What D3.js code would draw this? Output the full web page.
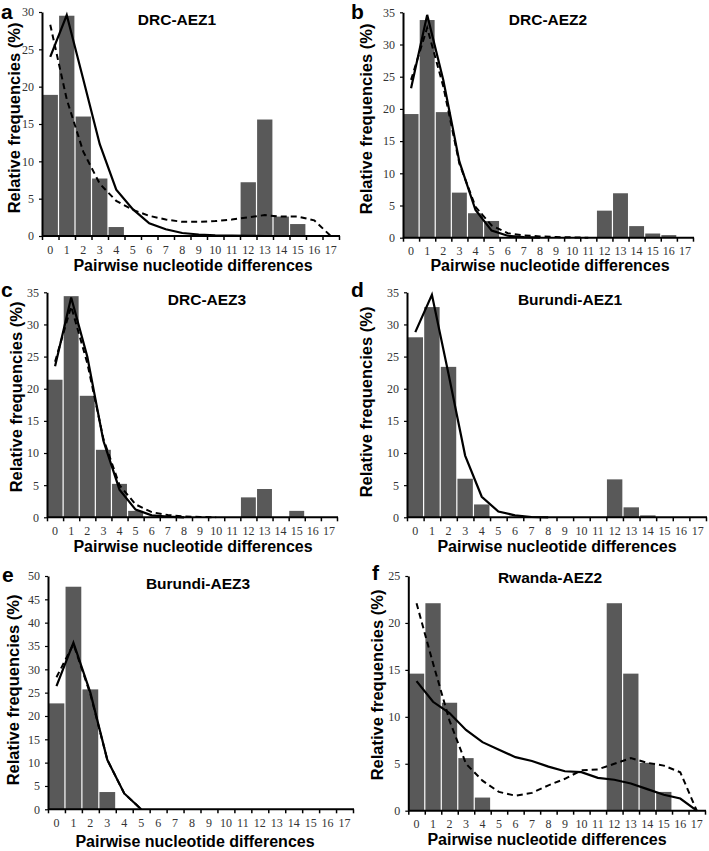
<!DOCTYPE html>
<html>
<head>
<meta charset="utf-8">
<script src="https://cdn.jsdelivr.net/npm/d3@7"></script>
<style>
  body { margin: 0; background: #fff; }
  svg { display: block; }
</style>
</head>
<body>
<div id="chart"></div>
<script>
const categories = [0, 1, 2, 3, 4, 5, 6, 7, 8, 9, 10, 11, 12, 13, 14, 15, 16, 17];

const panelLetters = ["a", "b", "c", "d", "e", "f"];
const panelTitles = ["DRC-AEZ1", "DRC-AEZ2", "DRC-AEZ3", "Burundi-AEZ1", "Burundi-AEZ3", "Rwanda-AEZ2"];
const yMaxes = [30, 35, 35, 35, 50, 25];
const yTickStep = 5;

// observed mismatch distribution (bars)
const barsA = [18.9, 29.5, 16.0, 7.7, 1.2, 0, 0, 0, 0, 0, 0, 0, 7.2, 15.6, 2.6, 1.6, 0, 0];
const barsB = [19.2, 33.8, 19.5, 7.0, 3.8, 2.6, 0, 0, 0, 0, 0, 0, 4.2, 6.9, 1.8, 0.65, 0.4, 0];
const barsC = [21.4, 34.4, 18.9, 10.5, 5.2, 1.0, 0, 0, 0, 0, 0, 0, 3.1, 4.4, 0, 1.0, 0, 0];
const barsD = [28.0, 32.7, 23.4, 6.0, 2.0, 0, 0, 0, 0, 0, 0, 0, 5.9, 1.55, 0.3, 0, 0, 0];
const barsE = [22.7, 47.7, 25.7, 3.7, 0, 0, 0, 0, 0, 0, 0, 0, 0, 0, 0, 0, 0, 0];
const barsF = [14.6, 22.1, 11.5, 5.6, 1.4, 0, 0, 0, 0, 0, 0, 0, 22.1, 14.6, 5.1, 2.0, 0, 0];

// expected curves, solid line
const solidA = [24.0, 29.6, 21.0, 12.3, 6.2, 3.6, 1.7, 0.9, 0.4, 0.2, 0.1, 0.05, 0.02, 0, 0, 0, 0, 0];
const solidB = [23.2, 34.6, 24.5, 11.8, 4.3, 1.1, 0.3, 0.1, 0];
const solidC = [23.5, 34.2, 25.0, 11.9, 4.3, 1.2, 0.3, 0.1, 0];
const solidD = [28.8, 34.6, 22.3, 9.6, 3.2, 0.9, 0.3, 0.05, 0];
const solidE = [26.4, 35.7, 25.0, 10.6, 3.4, 0];
const solidF = [13.8, 11.6, 10.4, 8.6, 7.3, 6.5, 5.7, 5.3, 4.7, 4.2, 4.1, 3.5, 3.3, 2.9, 2.3, 1.7, 1.3, 0];

// expected curves, dashed line
const dashedA = [28.3, 18.3, 11.3, 7.0, 4.7, 3.5, 2.7, 2.2, 1.9, 1.9, 2.0, 2.2, 2.5, 2.8, 2.6, 2.6, 2.1, 0];
const dashedB = [24.5, 32.6, 23.5, 11.5, 4.8, 1.9, 0.7, 0.35, 0.2, 0.1, 0.05, 0];
const dashedC = [24.2, 32.8, 24.0, 12.2, 5.0, 2.0, 0.8, 0.35, 0.15, 0.05, 0];
const dashedD = null;
const dashedE = [28.3, 35.4, 24.7, 10.6, 3.4, 0];
const dashedF = [22.1, 15.7, 9.6, 5.0, 3.2, 2.0, 1.6, 1.9, 2.7, 3.4, 4.3, 4.4, 5.0, 5.6, 5.1, 4.8, 4.1, 0];

const xLabel = "Pairwise nucleotide differences";
const yLabel = "Relative frequencies (%)";

const bars = [barsA, barsB, barsC, barsD, barsE, barsF];
const solids = [solidA, solidB, solidC, solidD, solidE, solidF];
const dashes = [dashedA, dashedB, dashedC, dashedD, dashedE, dashedF];

// plot boxes: x range of bands, y range (bottom, top), label spots
const boxes = [
  { x0: 42, x1: 339, y0: 236, y1: 12, tx: 177, ty: 25, lx: 1, ly: 19, yl: [20, 118], xl: [193, 271] },
  { x0: 403, x1: 693, y0: 237.7, y1: 12.3, tx: 548, ty: 25, lx: 351, ly: 19, yl: [372, 119], xl: [550, 271] },
  { x0: 47, x1: 337, y0: 517.3, y1: 292.3, tx: 207, ty: 305, lx: 1, ly: 297, yl: [22, 397], xl: [193, 552] },
  { x0: 407, x1: 706, y0: 517.3, y1: 292.3, tx: 570, ty: 305, lx: 351, ly: 297, yl: [372, 402], xl: [557, 552] },
  { x0: 48, x1: 353, y0: 809.3, y1: 576, tx: 198, ty: 589, lx: 2, ly: 582, yl: [19, 690], xl: [195, 847] },
  { x0: 408.3, x1: 705, y0: 810.7, y1: 576, tx: 550, ty: 583, lx: 372, ly: 580, yl: [383, 685], xl: [547, 845] }
];

const svg = d3.select("#chart")
  .append("svg")
    .attr("width", 709)
    .attr("height", 851);

svg.append("rect")
  .attr("width", 709)
  .attr("height", 851)
  .style("fill", "#fff");

boxes.forEach((b, i) => {
  const g = svg.append("g");

  const x = d3.scaleBand()
    .domain(categories)
    .range([b.x0, b.x1])
    .padding(0);

  const xEdge = d3.scaleLinear()
    .domain([0, categories.length])
    .range([b.x0, b.x1]);

  const y = d3.scaleLinear()
    .domain([0, yMaxes[i]])
    .range([b.y0, b.y1]);

  // bars
  g.append("g")
    .selectAll("rect")
    .data(bars[i].map((v, k) => [categories[k], v]).filter(d => d[1] > 0))
    .enter()
    .append("rect")
      .attr("x", d => x(d[0]) + 0.6)
      .attr("width", x.bandwidth() - 1.2)
      .attr("y", d => y(d[1]))
      .attr("height", d => y(0) - y(d[1]))
      .style("fill", "#595959");

  const line = d3.line()
    .x((d, k) => x(categories[k]) + x.bandwidth() / 2)
    .y(d => y(d));

  if (dashes[i]) {
    g.append("path")
      .datum(dashes[i])
      .attr("d", line)
      .style("fill", "none")
      .style("stroke", "#000")
      .style("stroke-width", 2)
      .style("stroke-dasharray", "6,4");
  }

  g.append("path")
    .datum(solids[i])
    .attr("d", line)
    .style("fill", "none")
    .style("stroke", "#000")
    .style("stroke-width", 2.2);

  // x axis: tick marks at band edges, labels at band centres
  const xMarks = g.append("g")
    .attr("transform", `translate(0,${b.y0})`)
    .call(d3.axisBottom(xEdge).tickValues(d3.range(0, categories.length + 1)).tickSize(4).tickFormat(""));
  xMarks.select(".domain").remove();
  xMarks.selectAll(".tick line").style("stroke", "#000").style("stroke-width", 1.5);

  const xLabels = g.append("g")
    .attr("transform", `translate(0,${b.y0})`)
    .call(d3.axisBottom(x).tickSize(0).tickPadding(9));
  xLabels.select(".domain").remove();
  xLabels.selectAll("text")
    .style("font-family", "'Liberation Serif', serif")
    .style("font-size", "12px")
    .style("fill", "#333");

  g.append("line")
    .attr("x1", b.x0)
    .attr("x2", b.x1 + 1)
    .attr("y1", b.y0)
    .attr("y2", b.y0)
    .style("stroke", "#000")
    .style("stroke-width", 2);

  // y axis
  const yAxis = g.append("g")
    .attr("transform", `translate(${b.x0},0)`)
    .call(d3.axisLeft(y).tickValues(d3.range(0, yMaxes[i] + 1, yTickStep)).tickSize(3).tickSizeOuter(0).tickPadding(5));
  yAxis.select(".domain").style("stroke", "#000").style("stroke-width", 2);
  yAxis.selectAll(".tick line").style("stroke", "#000").style("stroke-width", 1.2);
  yAxis.selectAll("text")
    .style("font-family", "'Liberation Serif', serif")
    .style("font-size", "12px")
    .style("fill", "#333");

  // texts
  g.append("text")
    .attr("x", b.tx)
    .attr("y", b.ty)
    .attr("text-anchor", "middle")
    .style("font-family", "'Liberation Sans', Arial, sans-serif")
    .style("font-weight", "bold")
    .style("font-size", "15.5px")
    .text(panelTitles[i]);

  g.append("text")
    .attr("x", b.lx)
    .attr("y", b.ly)
    .style("font-family", "'Liberation Sans', Arial, sans-serif")
    .style("font-weight", "bold")
    .style("font-size", "21px")
    .text(panelLetters[i]);

  g.append("text")
    .attr("x", b.xl[0])
    .attr("y", b.xl[1])
    .attr("text-anchor", "middle")
    .style("font-family", "'Liberation Sans', Arial, sans-serif")
    .style("font-weight", "bold")
    .style("font-size", "16px")
    .text(xLabel);

  g.append("text")
    .attr("transform", `translate(${b.yl[0]},${b.yl[1]}) rotate(-90)`)
    .attr("text-anchor", "middle")
    .style("font-family", "'Liberation Sans', Arial, sans-serif")
    .style("font-weight", "bold")
    .style("font-size", "16.5px")
    .text(yLabel);
});
</script>
</body>
</html>
